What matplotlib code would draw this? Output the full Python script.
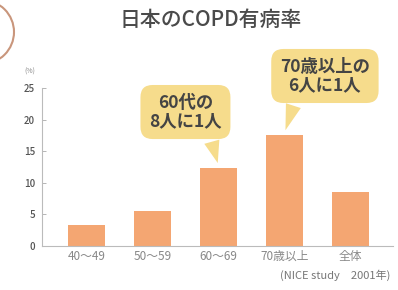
import matplotlib
matplotlib.use("Agg")
import matplotlib.pyplot as plt
from matplotlib.patches import Arc

plt.rcParams['font.family'] = ['Noto Sans CJK JP', 'DejaVu Sans']

categories = ["40〜49", "50〜59", "60〜69", "70歳以上", "全体"]
values = [3.4, 5.5, 12.3, 17.5, 8.6]
yticks = [0, 5, 10, 15, 20, 25]
title = "日本のCOPD有病率"
source = "(NICE study　2001年)"
callouts = [(2, "60代の\n8人に1人"), (3, "70歳以上の\n6人に1人")]

bar_color = "#f4a672"
box_color = "#f6dc8c"
text_dark = "#444444"

fig = plt.figure(figsize=(3.98, 2.90), dpi=100)
fig.patch.set_facecolor("white")
ax = fig.add_axes([42/398, 1-246/290, (393-42)/398, (246-88)/290])

x = list(range(len(categories)))
ax.bar(x, values, width=0.56, color=bar_color, zorder=2)
ax.set_xlim(-0.67, 4.64)
ax.set_ylim(0, 25)
ax.set_yticks(yticks)
ax.set_yticklabels([str(t) for t in yticks], fontsize=7, color="#555555",
                   fontweight='medium')
ax.set_xticks(x)
ax.set_xticklabels(categories, fontsize=8.5, color="#888888")
ax.tick_params(axis='x', length=0, pad=3)
ax.tick_params(axis='y', direction='in', length=3, width=0.6, color="#aaaaaa", pad=5)
for s in ["top", "right"]:
    ax.spines[s].set_visible(False)
for s in ["left", "bottom"]:
    ax.spines[s].set_color("#bbbbbb")
    ax.spines[s].set_linewidth(0.8)

# callouts
offsets = {2: (1.50, 21.2, 0.82), 3: (3.61, 26.9, 0.19)}
for idx, label in callouts:
    tx, ty, rx = offsets[idx]
    ax.annotate(label, xy=(idx, values[idx] + 0.4), xytext=(tx, ty),
                textcoords='data', ha='center', va='center',
                fontsize=12.5, fontweight='bold', color=text_dark, linespacing=1.05,
                annotation_clip=False,
                bbox=dict(boxstyle="round,pad=0.5,rounding_size=0.7",
                          fc=box_color, ec="none"),
                arrowprops=dict(arrowstyle="wedge,tail_width=0.9,shrink_factor=0.5",
                                fc=box_color, ec="none", relpos=(rx, 0.0)),
                zorder=3)

fig.text(211/398, 1-20/290, title, ha='center', va='center',
         fontsize=15, fontweight='medium', color="#4a4a4a")
fig.text(30/398, 1-72/290, "(%)", ha='center', va='center',
         fontsize=5, color="#888888")
fig.text(390/398, 1-275/290, source, ha='right', va='center',
         fontsize=8, color="#777777")

# decorative circle arc at top-left
arc = Arc((-18/398, 1-32/290), 64/398, 64/290, transform=fig.transFigure,
          color="#c9967c", lw=1.5, theta1=-90, theta2=90)
fig.add_artist(arc)

fig.savefig("out.png", dpi=100, facecolor="white")
